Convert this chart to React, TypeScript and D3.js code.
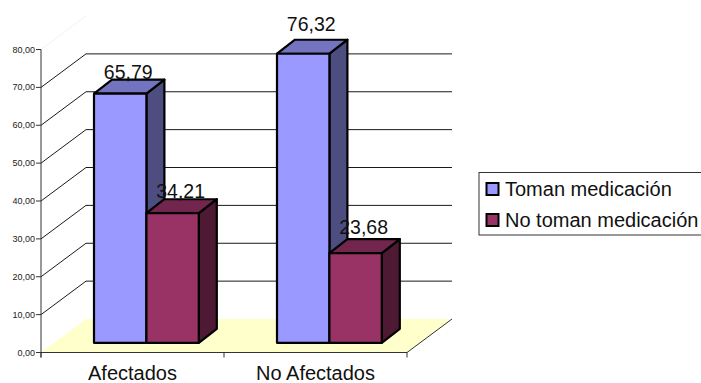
import React from "react";
import * as d3 from "d3";

const categories = ["Afectados", "No Afectados"];
const seriesNames = ["Toman medicación", "No toman medicación"];
const tomanValues = [65.79, 76.32];
const noTomanValues = [34.21, 23.68];
const valueLabels = [["65,79", "76,32"], ["34,21", "23,68"]];
const labelLift = [[15, 22.5], [15, 19]];
const yTicks = [0, 10, 20, 30, 40, 50, 60, 70, 80];

const FONT = "'Liberation Sans', Arial, sans-serif";
const WALL_DX = 45;
const WALL_DY = 33.5;
const BAR_INSET_X = 53;
const BAR_DROP = 9.7;
const BAR_W = 52.4;
const SIDE_DX = 18;
const SIDE_DY = 14;

const palettes = [
  { front: "#9999ff", side: "#4d4d80", top: "#7373bf" },
  { front: "#993366", side: "#4d1933", top: "#73264d" },
];

const y = d3.scaleLinear().domain([0, 80]).range([352.5, 49.5]);
const x = d3.scaleBand<string>().domain(categories).range([41, 407]);

const poly = (pts: [number, number][]) => {
  const p = d3.path();
  pts.forEach(([a, b], i) => (i ? p.lineTo(a, b) : p.moveTo(a, b)));
  p.closePath();
  return p.toString();
};

type Cuboid = { x0: number; top: number; bottom: number; pal: (typeof palettes)[number] };

function Bar({ x0, top, bottom, pal }: Cuboid) {
  const x1 = x0 + BAR_W;
  return (
    <g stroke="#000" strokeWidth={2.2} strokeLinejoin="round">
      <path
        fill={pal.side}
        d={poly([[x1, top], [x1 + SIDE_DX, top - SIDE_DY], [x1 + SIDE_DX, bottom - SIDE_DY], [x1, bottom]])}
      />
      <path
        fill={pal.top}
        d={poly([[x0, top], [x0 + SIDE_DX, top - SIDE_DY], [x1 + SIDE_DX, top - SIDE_DY], [x1, top]])}
      />
      <rect x={x0} y={top} width={BAR_W} height={bottom - top} fill={pal.front} />
    </g>
  );
}

export default function App() {
  const series = [tomanValues, noTomanValues];
  const y0 = y(0);
  const x0 = x.range()[0];
  const x1 = x.range()[1];
  const barBottom = y0 - BAR_DROP;
  const barLeft = (cat: string, s: number) => (x(cat) as number) + BAR_INSET_X + s * BAR_W;

  return (
    <svg
      width={701}
      height={383}
      style={{ position: "absolute", left: 0, top: 0, background: "#fff" }}
      fontFamily={FONT}
    >
      {/* floor of the 3D plot */}
      <path
        fill="#ffffcc"
        d={poly([[x0, y0], [x0 + WALL_DX, y0 - WALL_DY], [x1 + WALL_DX, y0 - WALL_DY], [x1, y0]])}
      />

      {/* faint top edge of the side wall */}
      <line x1={x0} y1={y(80)} x2={x0 + WALL_DX} y2={y(80) - WALL_DY} stroke="#f2f2f2" />

      {/* gridlines: side wall diagonal, then back wall */}
      {yTicks.slice(1, -1).map((t) => (
        <g key={t} stroke="#1a1a1a" strokeWidth={1} fill="none">
          <line x1={x0} y1={y(t)} x2={x0 + WALL_DX} y2={y(t) - WALL_DY} />
          <line x1={x0 + WALL_DX} y1={y(t) - WALL_DY} x2={x1 + WALL_DX} y2={y(t) - WALL_DY} />
        </g>
      ))}
      <line x1={x1} y1={y0} x2={x1 + WALL_DX} y2={y0 - WALL_DY} stroke="#333" />

      {/* axes */}
      <g stroke="#333" strokeWidth={1} fill="none">
        <line x1={x0} y1={y(80)} x2={x0} y2={y0 + 5} />
        <line x1={x0} y1={y0} x2={x1} y2={y0} />
        {yTicks.map((t) => (
          <line key={t} x1={x0 - 5} y1={y(t)} x2={x0} y2={y(t)} />
        ))}
        {[...categories.map((c) => x(c) as number), x1].map((v) => (
          <line key={v} x1={v} y1={y0} x2={v} y2={y0 + 5} />
        ))}
      </g>
      {yTicks.map((t) => (
        <text key={t} x={35} y={y(t) + 3} textAnchor="end" fontSize={9} fill="#222">
          {t.toFixed(2).replace(".", ",")}
        </text>
      ))}
      {categories.map((c) => (
        <text
          key={c}
          x={(x(c) as number) + x.bandwidth() / 2}
          y={380}
          textAnchor="middle"
          fontSize={20}
          fill="#111"
        >
          {c}
        </text>
      ))}

      {/* bars, series by series within each category */}
      {categories.map((c, i) =>
        series.map((vals, s) => (
          <Bar
            key={c + s}
            x0={barLeft(c, s)}
            top={y(vals[i]) - BAR_DROP}
            bottom={barBottom}
            pal={palettes[s]}
          />
        ))
      )}

      {/* value labels */}
      {categories.map((c, i) =>
        series.map((vals, s) => (
          <text
            key={c + s}
            x={barLeft(c, s) + BAR_W / 2 + 8}
            y={y(vals[i]) - BAR_DROP - labelLift[s][i]}
            textAnchor="middle"
            fontSize={19.5}
            fill="#111"
          >
            {valueLabels[s][i]}
          </text>
        ))
      )}

      {/* legend */}
      <rect x={479} y={172.5} width={230} height={62.5} fill="#fff" stroke="#333" />
      {seriesNames.map((name, s) => (
        <g key={name} transform={`translate(0,${s * 31})`}>
          <rect x={486.5} y={183} width={12} height={12} fill={palettes[s].front} stroke="#000" strokeWidth={2} />
          <text x={505} y={196} fontSize={20} fill="#111">
            {name}
          </text>
        </g>
      ))}
    </svg>
  );
}
